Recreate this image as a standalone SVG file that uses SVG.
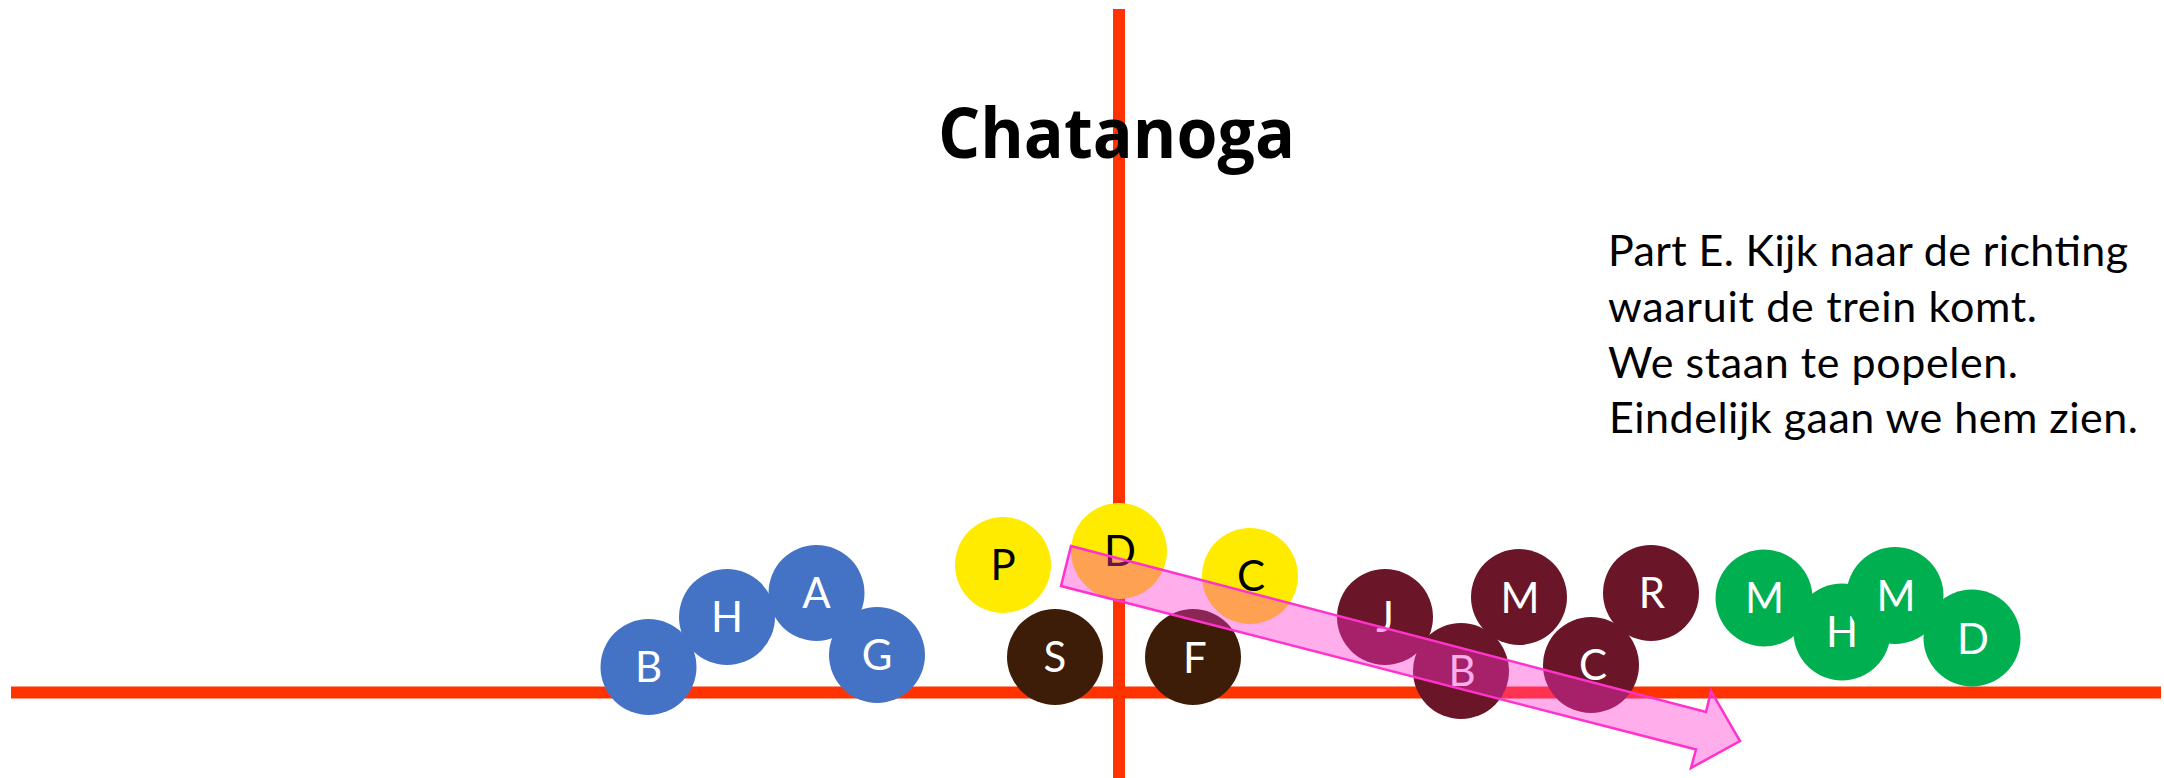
<svg xmlns="http://www.w3.org/2000/svg" width="2164" height="778" viewBox="0 0 2164 778">
<style>
.axis{stroke:#FF3300;stroke-width:12;fill:none}
.blue{fill:#4472C4}
.yellow{fill:#FFEB00}
.brown{fill:#3D1D07}
.maroon{fill:#6B1528}
.green{fill:#00B050}
.lbl{font-family:Lato,"Liberation Sans",sans-serif;font-size:42px;text-anchor:middle}
.w{fill:#FFFFFF}
.k{fill:#000000}
.title{font-family:"Open Sans","Liberation Sans",sans-serif;font-weight:bold;font-size:70px;fill:#000}
.body{font-family:Lato,"Liberation Sans",sans-serif;font-size:43px;fill:#000}
.arrow{fill:#FF33CC;fill-opacity:0.4;stroke:#FF33CC;stroke-width:2.5;stroke-linejoin:miter}
</style>
<rect width="2164" height="778" fill="#FFFFFF"/>
<g id="axes">
<line class="axis" x1="1119" y1="9" x2="1119" y2="778"/>
<line class="axis" x1="11" y1="692.5" x2="2161" y2="692.5"/>
</g>
<g id="title"><text class="title" x="938" y="158" textLength="357" lengthAdjust="spacingAndGlyphs">Chatanoga</text></g>
<g id="note">
<text class="body" x="1608" y="266" textLength="520" lengthAdjust="spacing">Part E. Kijk naar de richting</text>
<text class="body" x="1608" y="322" textLength="429" lengthAdjust="spacing">waaruit de trein komt.</text>
<text class="body" x="1608" y="378" textLength="410" lengthAdjust="spacing">We staan te popelen.</text>
<text class="body" x="1609" y="433" textLength="529" lengthAdjust="spacing">Eindelijk gaan we hem zien.</text>
</g>
<g id="blue-B"><circle class="blue" cx="648.5" cy="667" r="48"/><text class="lbl w" x="648.5" y="682">B</text></g>
<g id="blue-H"><circle class="blue" cx="727" cy="617" r="48"/><text class="lbl w" x="727" y="632">H</text></g>
<g id="blue-A"><circle class="blue" cx="816.5" cy="593" r="48"/><text class="lbl w" x="816.5" y="608">A</text></g>
<g id="blue-G"><circle class="blue" cx="877" cy="655" r="48"/><text class="lbl w" x="877" y="670">G</text></g>
<g id="yellow-P"><circle class="yellow" cx="1003" cy="565" r="48"/><text class="lbl k" x="1003" y="580">P</text></g>
<g id="yellow-D"><circle class="yellow" cx="1119" cy="551" r="48"/><text class="lbl k" x="1120" y="566">D</text></g>
<g id="yellow-C"><circle class="yellow" cx="1250" cy="576" r="48"/><text class="lbl k" x="1251" y="591">C</text></g>
<g id="brown-S"><circle class="brown" cx="1055" cy="657" r="48"/><text class="lbl w" x="1055" y="672">S</text></g>
<g id="brown-F"><circle class="brown" cx="1193" cy="657" r="48"/><text class="lbl w" x="1195" y="673">F</text></g>
<g id="maroon-J"><circle class="maroon" cx="1385" cy="617" r="48"/><text class="lbl w" x="1385" y="632">J</text></g>
<g id="maroon-B"><circle class="maroon" cx="1461" cy="671" r="48"/><text class="lbl w" x="1462" y="686">B</text></g>
<g id="maroon-M"><circle class="maroon" cx="1519" cy="597" r="48"/><text class="lbl w" x="1520" y="613">M</text></g>
<g id="maroon-C"><circle class="maroon" cx="1591" cy="665" r="48"/><text class="lbl w" x="1593" y="680">C</text></g>
<g id="maroon-R"><circle class="maroon" cx="1651" cy="593" r="48"/><text class="lbl w" x="1652" y="608">R</text></g>
<g id="green-M1"><circle class="green" cx="1764" cy="598" r="48.5"/><text class="lbl w" x="1764.5" y="613">M</text></g>
<g id="green-H"><circle class="green" cx="1842" cy="632" r="48.5"/><text class="lbl w" x="1842" y="647">H</text></g>
<g id="green-M2"><circle class="green" cx="1895" cy="595.5" r="48.5"/><text class="lbl w" x="1896" y="611">M</text></g>
<g id="green-D"><circle class="green" cx="1972" cy="638" r="48.5"/><text class="lbl w" x="1973" y="654">D</text></g>
<g id="connectors">
<polygon id="direction-arrow" class="arrow" points="1071,546 1706,712 1711,691 1740,741 1691,768 1696,749.5 1061,586"/>
</g>
</svg>
